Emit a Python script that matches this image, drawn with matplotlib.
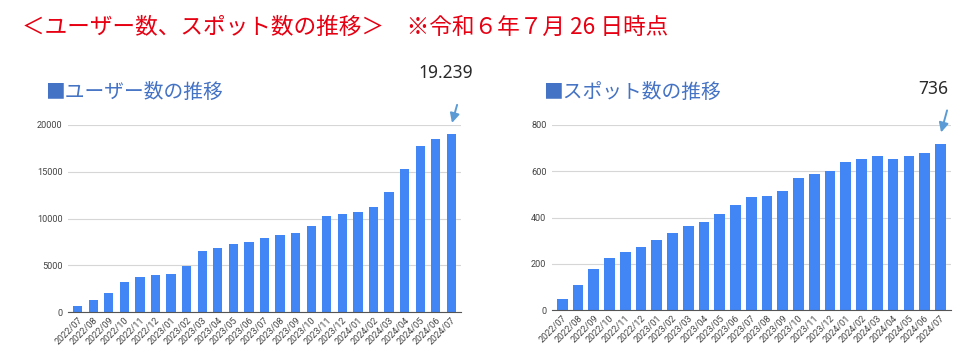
import matplotlib
matplotlib.use("Agg")
import matplotlib.pyplot as plt

plt.rcParams['font.family'] = ['Noto Sans CJK JP', 'DejaVu Sans']

months = ["2022/07", "2022/08", "2022/09", "2022/10", "2022/11", "2022/12",
          "2023/01", "2023/02", "2023/03", "2023/04", "2023/05", "2023/06",
          "2023/07", "2023/08", "2023/09", "2023/10", "2023/11", "2023/12",
          "2024/01", "2024/02", "2024/03", "2024/04", "2024/05", "2024/06",
          "2024/07"]
users = [680, 1360, 2080, 3250, 3790, 3960, 4100, 4960, 6550, 6880, 7260,
         7510, 7900, 8220, 8480, 9190, 10300, 10470, 10720, 11250, 12850,
         15300, 17720, 18500, 19020]
spots = [49, 109, 177, 226, 252, 273, 302, 334, 364, 381, 416, 453, 491,
         493, 515, 570, 589, 601, 640, 653, 666, 655, 666, 679, 717]

main_title = "＜ユーザー数、スポット数の推移＞　※令和６年７月 26 日時点"
title_users = "■ユーザー数の推移"
title_spots = "■スポット数の推移"
note_users = "19.239"
note_spots = "736"
yticks_users = [0, 5000, 10000, 15000, 20000]
yticks_spots = [0, 200, 400, 600, 800]

BAR = "#4285F4"
TITLE_BLUE = "#4472C4"
ARROW = "#5B9BD5"

W, H = 980, 364
fig = plt.figure(figsize=(W / 100, H / 100), dpi=100)


def px_axes(x0, x1, y_top, y_bot):
    return fig.add_axes([x0 / W, 1 - y_bot / H, (x1 - x0) / W, (y_bot - y_top) / H])


def style(ax, yticks, ylim):
    ax.set_ylim(*ylim)
    ax.set_yticks(yticks)
    ax.set_yticklabels([str(v) for v in yticks])
    ax.yaxis.grid(True, color="#d6d6d6", lw=0.8)
    ax.set_axisbelow(True)
    for s in ["top", "right", "left"]:
        ax.spines[s].set_visible(False)
    ax.spines["bottom"].set_color("#555555")
    ax.spines["bottom"].set_linewidth(0.8)
    ax.spines["bottom"].set_zorder(3)
    ax.tick_params(axis="both", length=0, colors="#444444")
    ax.tick_params(axis="y", pad=4, labelsize=6.6)
    ax.tick_params(axis="x", pad=2.5, labelsize=6.6)
    ax.set_xticks(range(len(months)))
    ax.set_xticklabels(months, rotation=45, ha="right", va="top",
                       rotation_mode="anchor", family=["Roboto", "DejaVu Sans"])
    for lab in ax.get_yticklabels():
        lab.set_family(["Roboto", "DejaVu Sans"])


# Left chart: users
ax1 = px_axes(68, 461, 125, 312.3)
ax1.bar(range(len(months)), users, width=0.6, color=BAR, zorder=2)
ax1.set_xlim(-0.62, len(months) - 1 + 0.62)
style(ax1, yticks_users, (0, 20000))
ax1.annotate("", xy=(24.04, 20220), xytext=(24.37, 22150),
             arrowprops=dict(arrowstyle="-|>", color=ARROW, lw=1.4,
                             mutation_scale=14, shrinkA=0, shrinkB=0),
             annotation_clip=False)
ax1.text(23.66, 25560, note_users, ha="center", va="center", fontsize=12.5,
         color="#2a2a2a", family=["Noto Sans", "DejaVu Sans"], clip_on=False)

# Right chart: spots
ax2 = px_axes(552, 951, 125, 310.3)
ax2.bar(range(len(months)), spots, width=0.67, color=BAR, zorder=2)
ax2.set_xlim(-0.65, len(months) - 1 + 0.68)
style(ax2, yticks_spots, (0, 800))
ax2.annotate("", xy=(24.05, 768), xytext=(24.43, 863),
             arrowprops=dict(arrowstyle="-|>", color=ARROW, lw=1.4,
                             mutation_scale=14, shrinkA=0, shrinkB=0),
             annotation_clip=False)
ax2.text(23.54, 954, note_spots, ha="center", va="center", fontsize=12.5,
         color="#2a2a2a", family=["Noto Sans", "DejaVu Sans"], clip_on=False)

# Titles
fig.text(22 / W, 1 - 27 / H, main_title, ha="left", va="center",
         fontsize=16.3, color="#E60012")
fig.text(45 / W, 1 - 92 / H, title_users, ha="left", va="center",
         fontsize=14.2, color=TITLE_BLUE)
fig.text(543 / W, 1 - 92 / H, title_spots, ha="left", va="center",
         fontsize=14.2, color=TITLE_BLUE)

fig.savefig("out.png", dpi=100, facecolor="white")
